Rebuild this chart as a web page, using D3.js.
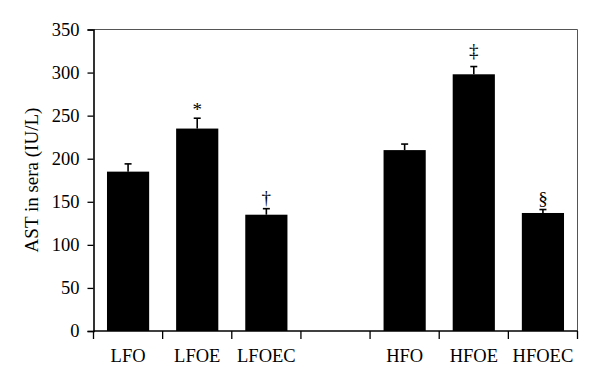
<!DOCTYPE html>
<html><head><meta charset="utf-8">
<script src="https://cdn.jsdelivr.net/npm/d3@7"></script>
<style>body{margin:0;background:#fff}svg{display:block}</style>
</head><body>
<svg id="c" width="600" height="383"></svg>
<script>
const categories = ["LFO","LFOE","LFOEC","","HFO","HFOE","HFOEC"];
const values = [185, 235, 135, null, 210, 298, 137];
const errors = [9, 12, 7, null, 7, 9, 4];
const marks = ["", "*", "\u2020", "", "", "\u2021", "\u00a7"];
const yTicks = [0,50,100,150,200,250,300,350];

const svg = d3.select("#c");
const m = {l:93.5, r:577.5, t:29.5, b:331};
const font = "'Liberation Serif', 'Times New Roman', serif";
// glyph-specific vertical nudges (styling only)
const markNudge = {"*": 3, "\u2021": -5, "\u2020": 0, "\u00a7": 0};

const x = d3.scaleBand().domain(categories.map((d,i)=>i)).range([m.l, m.r]).paddingInner(0.39).paddingOuter(0.195);
const xb = d3.scaleBand().domain(categories.map((d,i)=>i)).range([m.l, m.r]);
const y = d3.scaleLinear().domain([0,350]).range([m.b, m.t]);

const data = categories.map((c,i)=>({c, v:values[i], e:errors[i], mk:marks[i], i})).filter(d=>d.v!=null);

// frame
svg.append("line").attr("x1",m.l).attr("x2",m.r).attr("y1",m.t).attr("y2",m.t).attr("stroke","#555").attr("stroke-width",1);
svg.append("line").attr("x1",m.r).attr("x2",m.r).attr("y1",m.t).attr("y2",m.b).attr("stroke","#555").attr("stroke-width",1);

// bars
svg.selectAll("rect.bar").data(data).join("rect")
  .attr("x",d=>x(d.i)).attr("width",x.bandwidth())
  .attr("y",d=>y(d.v)).attr("height",d=>y(0)-y(d.v)).attr("fill","#000");

// error bars
const eb = svg.append("g").attr("stroke","#000").attr("stroke-width",1.6);
data.forEach(d=>{
  const cx = x(d.i)+x.bandwidth()/2;
  eb.append("line").attr("x1",cx).attr("x2",cx).attr("y1",y(d.v)).attr("y2",y(d.v+d.e));
  eb.append("line").attr("x1",cx-3.5).attr("x2",cx+3.5).attr("y1",y(d.v+d.e)).attr("y2",y(d.v+d.e));
});

// annotation marks
svg.selectAll("text.mk").data(data.filter(d=>d.mk)).join("text")
  .attr("x",d=>x(d.i)+x.bandwidth()/2)
  .attr("y",d=>y(d.v+d.e)-5+(markNudge[d.mk]||0))
  .attr("text-anchor","middle").attr("font-family",font).attr("font-size",19).attr("fill","#000")
  .text(d=>d.mk);

// y axis
const ya = svg.append("g").attr("transform",`translate(${m.l},0)`)
  .call(d3.axisLeft(y).tickValues(yTicks).tickSize(6).tickPadding(8));
ya.select(".domain").attr("stroke-width",1.6);
ya.selectAll("line").attr("stroke-width",1.3);
ya.selectAll("text").attr("font-family",font).attr("font-size",18.5).attr("fill","#000");

// x axis: ticks at band boundaries
const xa = svg.append("g").attr("transform",`translate(0,${m.b})`);
xa.append("line").attr("x1",m.l).attr("x2",m.r).attr("stroke","#000").attr("stroke-width",1.6);
const bounds = categories.map((d,i)=>xb(i)).concat([m.r]);
xa.selectAll("line.t").data(bounds).join("line").attr("class","t")
  .attr("x1",d=>d).attr("x2",d=>d).attr("y1",0).attr("y2",8).attr("stroke","#000").attr("stroke-width",1.3);
xa.selectAll("text").data(categories.map((c,i)=>({c,i}))).join("text")
  .attr("x",d=>xb(d.i)+xb.bandwidth()/2).attr("y",31)
  .attr("text-anchor","middle").attr("font-family",font).attr("font-size",18.5).attr("fill","#000")
  .text(d=>d.c);

// y label
svg.append("text").attr("transform","translate(38,180) rotate(-90)")
  .attr("text-anchor","middle").attr("font-family",font).attr("font-size",19).attr("fill","#000")
  .text("AST in sera (IU/L)");
</script>
</body></html>
